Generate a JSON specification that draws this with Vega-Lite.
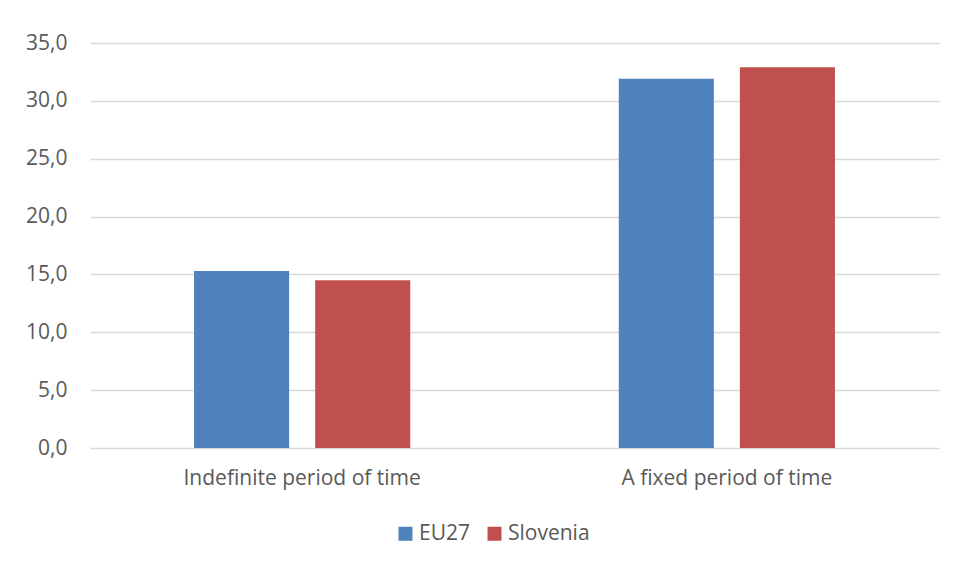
{
  "$schema": "https://vega.github.io/schema/vega-lite/v6.json",
  "width": 849,
  "height": 405,
  "autosize": "none",
  "padding": {"left": 90, "top": 43, "right": 17, "bottom": 115},
  "background": "white",
  "data": {
    "values": [
      {"category": "Indefinite period of time", "series": "EU27", "value": 15.3},
      {"category": "Indefinite period of time", "series": "Slovenia", "value": 14.5},
      {"category": "A fixed period of time", "series": "EU27", "value": 31.9},
      {"category": "A fixed period of time", "series": "Slovenia", "value": 32.9}
    ]
  },
  "mark": {"type": "bar"},
  "encoding": {
    "x": {
      "field": "category",
      "type": "nominal",
      "sort": ["Indefinite period of time", "A fixed period of time"],
      "scale": {"paddingInner": 0.491, "paddingOuter": 0.245},
      "axis": {
        "title": null,
        "labelAngle": 0,
        "labelLimit": 0,
        "domain": false,
        "ticks": false,
        "labelPadding": 19,
        "labelFontSize": 21,
        "labelFont": "Open Sans",
        "labelColor": "#595959"
      }
    },
    "xOffset": {
      "field": "series",
      "type": "nominal",
      "scale": {"paddingInner": 0.215, "paddingOuter": 0}
    },
    "y": {
      "field": "value",
      "type": "quantitative",
      "scale": {"domain": [0, 35], "nice": false},
      "axis": {
        "title": null,
        "values": [0, 5, 10, 15, 20, 25, 30, 35],
        "labelExpr": "replace(format(datum.value, '.1f'), '.', ',')",
        "domain": false,
        "ticks": false,
        "labelPadding": 23,
        "labelFontSize": 21,
        "labelFont": "Open Sans",
        "labelColor": "#595959",
        "gridColor": "#d9d9d9",
        "gridWidth": 1.3
      }
    },
    "color": {
      "field": "series",
      "type": "nominal",
      "scale": {"domain": ["EU27", "Slovenia"], "range": ["#4f81bd", "#c0504d"]},
      "legend": {
        "title": null,
        "orient": "none",
        "legendX": 305,
        "legendY": 480,
        "direction": "horizontal",
        "symbolType": "square",
        "symbolSize": 196,
        "symbolStrokeWidth": 0,
        "labelOffset": 3,
        "labelFontSize": 21,
        "labelFont": "Open Sans",
        "labelColor": "#595959",
        "columnPadding": 14
      }
    }
  },
  "config": {
    "view": {"stroke": null}
  }
}
